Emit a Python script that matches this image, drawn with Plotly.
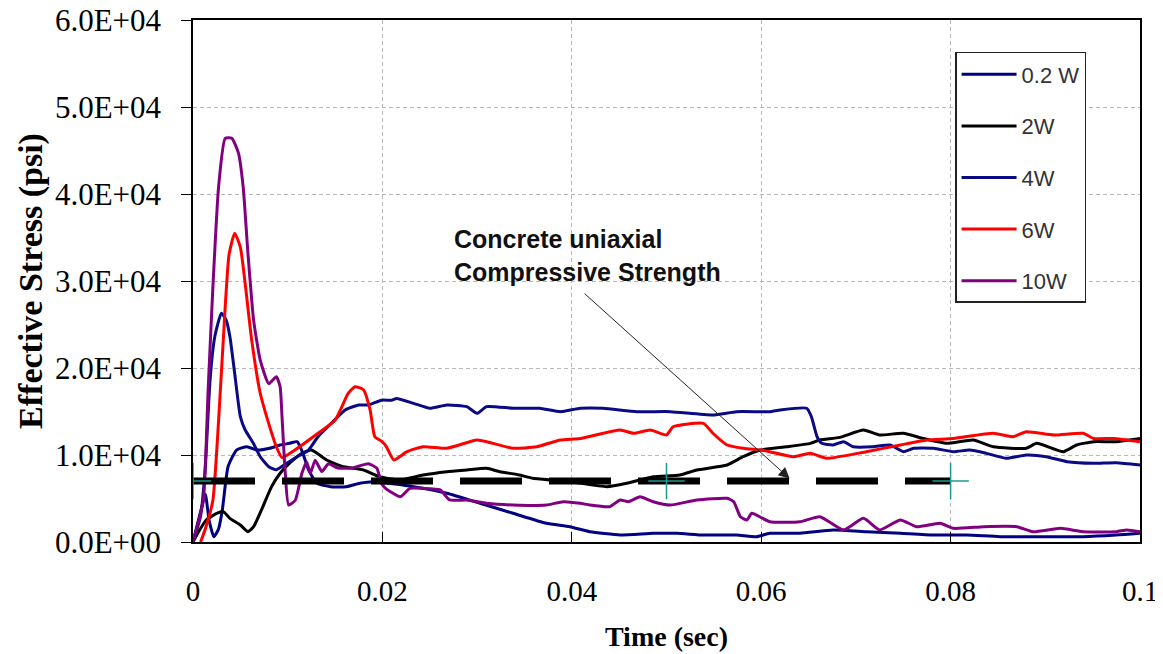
import plotly.graph_objects as go

# ---------------- data ----------------
t_02w = [0, 0.0008, 0.0013, 0.0017, 0.0022, 0.0027, 0.0031, 0.0037, 0.0046, 0.0057, 0.0067, 0.0081,
         0.0092, 0.0102, 0.011, 0.0116, 0.0122, 0.0131, 0.0145, 0.0162, 0.0176, 0.019, 0.0233, 0.0268,
         0.0303, 0.0338, 0.0373, 0.0398, 0.0419, 0.0451, 0.0486, 0.0511, 0.0539, 0.0574, 0.0595, 0.0609,
         0.0641, 0.0676, 0.0711, 0.0747, 0.0782, 0.0817, 0.0852, 0.0887, 0.094, 0.0975, 0.1]
v_02w = [0, 3500, 5500, 2500, 600, 1500, 3700, 8650, 10570, 10950, 10570, 10770,
         11150, 11340, 11530, 10200, 8280, 6750, 6360, 6360, 6750, 6930, 6360, 5600,
         4450, 3300, 2150, 1760, 1190, 800, 1000, 1000, 800, 800, 600, 1000,
         1000, 1380, 1190, 1000, 800, 800, 610, 610, 610, 800, 1000]

t_2w = [0, 0.0007, 0.0014, 0.0025, 0.0032, 0.0039, 0.005, 0.0058, 0.0064, 0.0073, 0.0083, 0.0092,
        0.0102, 0.0115, 0.0125, 0.0131, 0.0141, 0.0159, 0.018, 0.0197, 0.0219, 0.0243, 0.0268, 0.0289,
        0.031, 0.0324, 0.0345, 0.0359, 0.0398, 0.0437, 0.0458, 0.0486, 0.0514, 0.0532, 0.0564, 0.0581,
        0.0599, 0.0627, 0.0652, 0.0662, 0.0683, 0.0708, 0.0725, 0.075, 0.0771, 0.0796, 0.0824, 0.0845,
        0.088, 0.0891, 0.0919, 0.0933, 0.0951, 0.0975, 0.1]
v_2w = [0, 1380, 2530, 3300, 3490, 2720, 1950, 1190, 1760, 3870, 6360, 7900,
        9050, 10200, 10570, 10200, 9430, 8650, 8280, 7500, 7130, 7700, 8080, 8280,
        8470, 8080, 7700, 7320, 6930, 6360, 6750, 7500, 7700, 8280, 8850, 9800,
        10570, 10950, 11340, 11720, 12030, 12870, 12300, 12500, 11900, 11340, 11720, 10950,
        10770, 11340, 10380, 11150, 11530, 11530, 11900]

t_4w = [0, 0.0008, 0.0013, 0.0018, 0.0023, 0.003, 0.0035, 0.0039, 0.0044, 0.005, 0.0055, 0.0064,
        0.0071, 0.008, 0.0088, 0.0099, 0.011, 0.0122, 0.0132, 0.0146, 0.0161, 0.0175, 0.0185, 0.0199,
        0.021, 0.0215, 0.0233, 0.025, 0.0268, 0.0289, 0.03, 0.031, 0.0338, 0.0366, 0.0388, 0.0409,
        0.0433, 0.0469, 0.0504, 0.0549, 0.0574, 0.0609, 0.062, 0.0648, 0.0653, 0.0659, 0.0664, 0.0676,
        0.0687, 0.0697, 0.0718, 0.0736, 0.075, 0.0761, 0.0782, 0.0803, 0.082, 0.0838, 0.0859, 0.088,
        0.0901, 0.0923, 0.0951, 0.0975, 0.1]
v_4w = [0, 3000, 8600, 18600, 23600, 26300, 25500, 23600, 19400, 14400, 12900, 11300,
        9800, 8650, 8300, 9050, 9800, 10570, 12100, 13640, 15200, 15750, 15750, 16300,
        16300, 16500, 15940, 15370, 15750, 15560, 14790, 15560, 15370, 15370, 14980, 15370,
        15370, 14980, 14980, 14600, 14980, 14980, 15170, 15370, 14400, 12100, 11340, 11150,
        11530, 10950, 10950, 11150, 10380, 10770, 10770, 10380, 10570, 10190, 9620, 10000,
        9800, 9230, 9050, 9120, 8850]

t_6w = [0.0008, 0.0013, 0.0021, 0.003, 0.0034, 0.0038, 0.0044, 0.005, 0.0055, 0.0062, 0.0071, 0.008,
        0.0088, 0.0094, 0.0108, 0.0132, 0.015, 0.0164, 0.0171, 0.018, 0.0187, 0.0192, 0.0199, 0.0204,
        0.0212, 0.0226, 0.0243, 0.0268, 0.03, 0.0317, 0.0338, 0.0363, 0.0388, 0.0409, 0.0451, 0.0465,
        0.0483, 0.05, 0.0507, 0.0539, 0.0549, 0.0564, 0.0581, 0.0599, 0.0609, 0.0634, 0.0652, 0.0669,
        0.0711, 0.0747, 0.0775, 0.0803, 0.0845, 0.0866, 0.088, 0.0909, 0.094, 0.0951, 0.0972, 0.1]
v_6w = [0, 1500, 4800, 19500, 27000, 33000, 35500, 33900, 29800, 23200, 17100, 13600,
        10950, 9700, 10600, 12500, 14000, 17100, 17850, 17500, 15200, 12100, 11600, 11000,
        9430, 10380, 10950, 10770, 11720, 11340, 10770, 10950, 11720, 11900, 12870, 12500,
        12870, 12300, 13250, 13640, 12500, 11150, 10770, 10570, 10380, 9800, 10190, 9620,
        10380, 11150, 11720, 11900, 12500, 12100, 12680, 12300, 12500, 11900, 11900, 11530]

t_10w = [0, 0.0005, 0.0011, 0.0016, 0.0021, 0.0027, 0.0034, 0.0041, 0.0048, 0.0053, 0.0058, 0.0064,
         0.0071, 0.008, 0.0088, 0.0092, 0.0094, 0.0097, 0.0101, 0.0108, 0.0115, 0.012, 0.0124, 0.0129,
         0.0136, 0.0143, 0.0153, 0.0168, 0.0185, 0.0194, 0.0199, 0.0203, 0.0219, 0.0229, 0.0243, 0.0261,
         0.0271, 0.0289, 0.031, 0.0338, 0.0373, 0.0391, 0.0409, 0.0419, 0.044, 0.0451, 0.046, 0.0472,
         0.0486, 0.0504, 0.0532, 0.0564, 0.0571, 0.0578, 0.0585, 0.059, 0.0609, 0.0641, 0.0662, 0.0687,
         0.0708, 0.0725, 0.0747, 0.0764, 0.0789, 0.0803, 0.0835, 0.087, 0.0887, 0.0916, 0.094, 0.0975,
         0.0986, 0.1]
v_10w = [0, 2000, 4800, 17500, 29300, 40800, 46400, 46400, 44700, 40800, 33200, 25500,
         20900, 18200, 19000, 17850, 14400, 8650, 4250, 4800, 7900, 9200, 7900, 9400,
         8100, 9000, 8500, 8500, 9000, 8500, 6750, 6200, 5200, 6170, 6170, 6000,
         4830, 4830, 4450, 4250, 4250, 4630, 4450, 4250, 4060, 4830, 4630, 5200,
         4630, 4250, 4830, 5020, 4630, 2910, 2530, 3300, 2330, 2330, 2910, 1380,
         2720, 1380, 2530, 1760, 2150, 1570, 1760, 1760, 1190, 1570, 1190, 1190,
         1380, 1190]

# concrete uniaxial compressive strength reference line
t_fc = [0, 0.05, 0.08]
v_fc = [7000, 7000, 7000]

series_names = ["0.2 W", "2W", "4W", "6W", "10W"]
series_colors = ["#000080", "#000000", "#0a0a85", "#ff0000", "#800080"]

x_tickvals = [0, 0.02, 0.04, 0.06, 0.08, 0.1]
x_ticktext = ["0", "0.02", "0.04", "0.06", "0.08", "0.1"]
y_tickvals = [0, 10000, 20000, 30000, 40000, 50000, 60000]
y_ticktext = ["0.0E+00", "1.0E+04", "2.0E+04", "3.0E+04", "4.0E+04", "5.0E+04", "6.0E+04"]

# ---------------- figure ----------------
fig = go.Figure()
all_t = [t_02w, t_2w, t_4w, t_6w, t_10w]
all_v = [v_02w, v_2w, v_4w, v_6w, v_10w]
for name, col, tt, vv in zip(series_names, series_colors, all_t, all_v):
    fig.add_trace(go.Scatter(
        x=tt, y=vv, mode="lines", name=name, legendgroup=name,
        line=dict(color=col, width=3, shape="spline", smoothing=0.5),
    ))

fig.add_trace(go.Scatter(
    x=t_fc, y=v_fc, mode="lines+markers", showlegend=False,
    line=dict(color="#000000", width=7, dash="62px,27px"),
    marker=dict(symbol="cross-thin", size=26, line=dict(color="#1a9a8a", width=1.5)),
))

serif = "Liberation Serif"
sans = "Liberation Sans"

# the page body adds an 8 px offset, margins compensate for it
fig.update_layout(
    width=1163, height=654,
    margin=dict(l=185, r=31, t=12, b=120),
    paper_bgcolor="white", plot_bgcolor="white",
    showlegend=True,
    legend=dict(
        x=0.8047, y=0.9387, xanchor="left", yanchor="top",
        bgcolor="white", bordercolor="#222222", borderwidth=1.5,
        font=dict(family=sans, size=22, color="#333333"),
        tracegroupgap=20, itemwidth=55,
    ),
    xaxis=dict(
        range=[0, 0.1], tickvals=x_tickvals, ticktext=x_ticktext,
        showline=True, linecolor="#000000", linewidth=1.5, mirror=True,
        ticks="inside", ticklen=10, tickcolor="#000000",
        showgrid=True, gridcolor="#b8b8b8", gridwidth=1, griddash="4px,3px",
        zeroline=False, automargin=False, ticklabeloverflow="allow",
        tickfont=dict(family=serif, size=29, color="#000000"),
        ticklabelstandoff=22,
        title=dict(text="<b>Time (sec)</b>", font=dict(family=serif, size=28, color="#000000"), standoff=21),
    ),
    yaxis=dict(
        range=[0, 60000], tickvals=y_tickvals, ticktext=y_ticktext,
        showline=True, linecolor="#000000", linewidth=1.5, mirror=True,
        ticks="outside", ticklen=10, tickcolor="#000000",
        showgrid=True, gridcolor="#b8b8b8", gridwidth=1, griddash="4px,3px",
        zeroline=False, automargin=False, ticklabeloverflow="allow",
        tickfont=dict(family=serif, size=31, color="#000000"),
        ticklabelstandoff=14,
        title=dict(text="<b>Effective Stress (psi)</b>", font=dict(family=serif, size=34, color="#000000"), standoff=2),
    ),
)

fig.add_annotation(
    x=0.0274, y=32900, xref="x", yref="y", xanchor="left", yanchor="middle",
    text="Concrete uniaxial<br>Compressive Strength", showarrow=False, align="left",
    font=dict(family=sans, size=25, color="#111111", weight="bold"),
)
fig.add_annotation(
    x=0.063, y=7300, ax=0.0412, ay=28700, xref="x", yref="y", axref="x", ayref="y",
    text="", showarrow=True, arrowhead=2, arrowsize=2.2, arrowwidth=1, arrowcolor="#222222",
)

fig.write_html("out.html")
